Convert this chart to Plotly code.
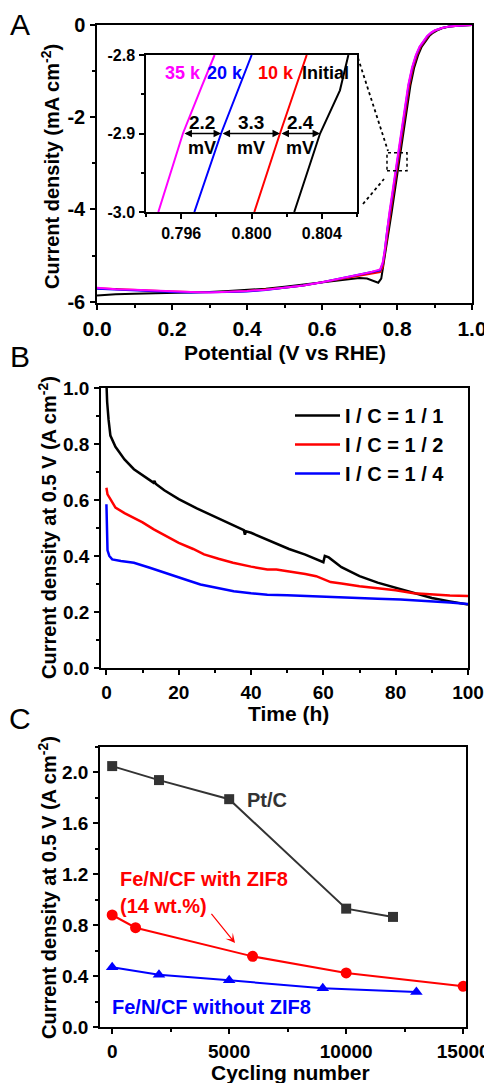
import plotly.graph_objects as go

# ---------------- Panel A: polarization curves ----------------
v_init = [0.00, 0.05, 0.10, 0.15, 0.20, 0.25, 0.30, 0.35, 0.40, 0.45, 0.50, 0.55, 0.60, 0.65, 0.70, 0.72,
          0.74, 0.75, 0.758, 0.765, 0.772, 0.779, 0.786, 0.796, 0.806, 0.816, 0.826, 0.836, 0.846, 0.856,
          0.866, 0.876, 0.886, 0.896, 0.906, 0.92, 0.94, 0.97, 1.00]
j_init = [-5.87, -5.84, -5.83, -5.82, -5.82, -5.81, -5.79, -5.77, -5.75, -5.72, -5.68, -5.63, -5.58, -5.53,
          -5.49, -5.50, -5.56, -5.59, -5.50, -5.15, -4.75, -4.44, -4.05, -3.50, -2.95, -2.40, -1.84, -1.30,
          -0.92, -0.66, -0.47, -0.34, -0.24, -0.17, -0.12, -0.07, -0.035, -0.01, 0.0]

v_10k = [0.00, 0.05, 0.10, 0.15, 0.20, 0.25, 0.30, 0.35, 0.40, 0.45, 0.50, 0.55, 0.60, 0.65, 0.70, 0.73,
         0.755, 0.762, 0.767, 0.772, 0.776, 0.783, 0.793, 0.803, 0.813, 0.823, 0.833, 0.843, 0.853, 0.863,
         0.873, 0.883, 0.893, 0.903, 0.92, 0.94, 0.97, 1.00]
j_10k = [-5.71, -5.73, -5.75, -5.77, -5.78, -5.79, -5.79, -5.79, -5.77, -5.74, -5.70, -5.65, -5.58, -5.50,
         -5.43, -5.39, -5.36, -5.25, -5.00, -4.70, -4.44, -4.05, -3.50, -2.95, -2.40, -1.84, -1.30, -0.92,
         -0.66, -0.47, -0.34, -0.24, -0.17, -0.12, -0.065, -0.03, -0.01, 0.0]

v_20k = [0.00, 0.05, 0.10, 0.15, 0.20, 0.25, 0.30, 0.35, 0.40, 0.45, 0.50, 0.55, 0.60, 0.65, 0.70, 0.73,
         0.755, 0.762, 0.767, 0.774, 0.781, 0.791, 0.801, 0.811, 0.821, 0.831, 0.841, 0.851, 0.861, 0.871,
         0.881, 0.891, 0.901, 0.92, 0.94, 0.97, 1.00]
j_20k = [-5.72, -5.74, -5.75, -5.77, -5.79, -5.80, -5.80, -5.79, -5.78, -5.75, -5.70, -5.65, -5.58, -5.50,
         -5.42, -5.37, -5.32, -5.17, -4.92, -4.44, -4.05, -3.50, -2.95, -2.40, -1.84, -1.30, -0.92, -0.66,
         -0.47, -0.34, -0.24, -0.17, -0.12, -0.065, -0.03, -0.01, 0.0]

v_35k = [0.00, 0.05, 0.10, 0.15, 0.20, 0.25, 0.30, 0.35, 0.40, 0.45, 0.50, 0.55, 0.60, 0.65, 0.70, 0.73,
         0.755, 0.762, 0.767, 0.773, 0.78, 0.79, 0.80, 0.81, 0.82, 0.83, 0.84, 0.85, 0.86, 0.87, 0.88, 0.89,
         0.90, 0.92, 0.94, 0.97, 1.00]
j_35k = [-5.70, -5.73, -5.74, -5.76, -5.78, -5.79, -5.80, -5.79, -5.77, -5.74, -5.70, -5.65, -5.58, -5.50,
         -5.41, -5.36, -5.30, -5.15, -4.90, -4.44, -4.05, -3.50, -2.95, -2.40, -1.84, -1.30, -0.92, -0.66,
         -0.47, -0.34, -0.24, -0.17, -0.12, -0.065, -0.03, -0.01, 0.0]

# inset (zoom of the half-wave region)
vi_init = [0.80243, 0.80390, 0.80503, 0.80551]
ji_init = [-3.0, -2.9, -2.845, -2.8]
vi_10k = [0.80016, 0.80162, 0.80314]
ji_10k = [-3.0, -2.9, -2.8]
vi_20k = [0.79675, 0.79827, 0.80001]
ji_20k = [-3.0, -2.9, -2.8]
vi_35k = [0.79470, 0.79610, 0.79717, 0.79790]
ji_35k = [-3.0, -2.9, -2.84, -2.8]
shift_labels = ["2.2", "3.3", "2.4"]

# ---------------- Panel B: durability ----------------
t_11 = [0, 0.2, 0.6, 1.1, 2.5, 5, 7.6, 10, 13, 13.3, 13.6, 16, 20, 25, 30, 35, 38, 38.3, 38.6, 40, 45, 50,
        50.5, 55, 60, 60.4, 61.5, 65, 70, 75, 80, 85, 90, 95, 100]
j_11 = [1.02, 0.95, 0.886, 0.83, 0.79, 0.745, 0.71, 0.688, 0.662, 0.668, 0.658, 0.635, 0.603, 0.57, 0.54,
        0.51, 0.492, 0.476, 0.488, 0.483, 0.456, 0.43, 0.425, 0.405, 0.378, 0.40, 0.395, 0.36, 0.328, 0.305,
        0.286, 0.267, 0.25, 0.238, 0.227]
t_12 = [0, 0.3, 1.1, 2.5, 5, 7.6, 10, 13.1, 16, 20, 24, 27, 31, 35, 40, 44.5, 47, 50, 55, 58, 60, 62, 65,
        70, 75, 80, 85, 90, 95, 100]
j_12 = [0.644, 0.62, 0.603, 0.573, 0.553, 0.537, 0.52, 0.495, 0.475, 0.447, 0.425, 0.406, 0.39, 0.376,
        0.362, 0.352, 0.352, 0.347, 0.336, 0.328, 0.318, 0.307, 0.302, 0.292, 0.285, 0.278, 0.267, 0.262,
        0.259, 0.257]
t_14 = [0, 0.1, 0.3, 0.8, 1.6, 4, 7.6, 12, 18.6, 22, 26, 30, 35.2, 40, 44.5, 50, 55, 62.9, 70, 75, 81.4,
        90, 95, 100]
j_14 = [0.585, 0.5, 0.42, 0.4, 0.388, 0.382, 0.376, 0.358, 0.328, 0.315, 0.298, 0.287, 0.274, 0.267,
        0.262, 0.26, 0.257, 0.253, 0.249, 0.247, 0.245, 0.239, 0.234, 0.229]
legend_names = ["I / C = 1 / 1", "I / C = 1 / 2", "I / C = 1 / 4"]

# ---------------- Panel C: cycling ----------------
cyc_pt = [0, 2000, 5000, 10000, 12000]
j_pt = [2.05, 1.94, 1.79, 0.93, 0.865]
cyc_zif = [0, 1000, 6000, 10000, 15000]
j_zif = [0.88, 0.78, 0.555, 0.425, 0.32]
cyc_nozif = [0, 2000, 5000, 9000, 13000]
j_nozif = [0.47, 0.41, 0.367, 0.305, 0.275]

FONT = "Liberation Sans, Arial, sans-serif"
OFF = 8                      # page body margin
W, H = 492 - OFF, 1083 - OFF


def px(x):
    return (x - OFF) / W


def py(y):
    return 1 - (y - OFF) / H


BLACK, RED, BLUE, MAG, GRAY = "#000000", "#ff0000", "#0000ff", "#ff00ff", "#333333"

fig = go.Figure()


def line(x, y, color, xa, ya, width=2, name=None, legend=False):
    fig.add_trace(go.Scatter(x=x, y=y, mode="lines", line=dict(color=color, width=width),
                             xaxis=xa, yaxis=ya, name=name, showlegend=legend, hoverinfo="skip"))


# Panel A
line(v_init, j_init, BLACK, "x", "y")
line(v_10k, j_10k, RED, "x", "y")
line(v_20k, j_20k, BLUE, "x", "y")
line(v_35k, j_35k, MAG, "x", "y")
# inset
line(vi_init, ji_init, BLACK, "x2", "y2")
line(vi_10k, ji_10k, RED, "x2", "y2")
line(vi_20k, ji_20k, BLUE, "x2", "y2")
line(vi_35k, ji_35k, MAG, "x2", "y2")
# Panel B
line(t_11, j_11, BLACK, "x3", "y3", width=2.5, name=legend_names[0], legend=True)
line(t_12, j_12, RED, "x3", "y3", width=2.5, name=legend_names[1], legend=True)
line(t_14, j_14, BLUE, "x3", "y3", width=2.5, name=legend_names[2], legend=True)
# Panel C
fig.add_trace(go.Scatter(x=cyc_pt, y=j_pt, mode="lines+markers", line=dict(color=GRAY, width=2),
                         marker=dict(symbol="square", size=10, color=GRAY), xaxis="x4", yaxis="y4",
                         showlegend=False))
fig.add_trace(go.Scatter(x=cyc_zif, y=j_zif, mode="lines+markers", line=dict(color=RED, width=2),
                         marker=dict(symbol="circle", size=11, color=RED), xaxis="x4", yaxis="y4",
                         showlegend=False))
fig.add_trace(go.Scatter(x=cyc_nozif, y=j_nozif, mode="lines+markers", line=dict(color=BLUE, width=2),
                         marker=dict(symbol="triangle-up", size=11, color=BLUE), xaxis="x4", yaxis="y4",
                         showlegend=False))


def tfont(size):
    return dict(family=FONT, size=size, color="black", weight="bold")


def axis(domain, rng, anchor, fsize, dtick=None, mdtick=None, tickvals=None, ticktext=None,
         mvals=None, fmt=None, tick0=0):
    d = dict(domain=domain, range=rng, anchor=anchor, showline=True, linecolor="black", linewidth=1.5,
             mirror=True, ticks="outside", ticklen=5, tickwidth=1.5, tickcolor="black", automargin=False,
             showgrid=False, zeroline=False, tickfont=tfont(fsize), ticklabelstandoff=1)
    minor = dict(ticks="outside", ticklen=3, tickwidth=1.5, tickcolor="black", showgrid=False)
    if tickvals is not None:
        d.update(tickmode="array", tickvals=tickvals, ticktext=ticktext)
        minor.update(tickmode="array", tickvals=mvals)
    else:
        d.update(tick0=tick0, dtick=dtick)
        minor.update(tick0=tick0, dtick=mdtick)
    if fmt:
        d["tickformat"] = fmt
    d["minor"] = minor
    return d


def inner(over, anchor, side, rng, dtick=None, mdtick=None, tickvals=None, mvals=None, tick0=0):
    d = dict(overlaying=over, anchor=anchor, side=side, range=rng, ticks="inside", ticklen=5,
             tickwidth=1.5, tickcolor="black", showticklabels=False, showline=False, showgrid=False,
             zeroline=False, automargin=False)
    minor = dict(ticks="inside", ticklen=3, tickwidth=1.5, tickcolor="black", showgrid=False)
    if tickvals is not None:
        d.update(tickmode="array", tickvals=tickvals)
        minor.update(tickmode="array", tickvals=mvals)
    else:
        d.update(tick0=tick0, dtick=dtick)
        minor.update(tick0=tick0, dtick=mdtick)
    d["minor"] = minor
    return d


A_x = [px(97), px(472)]
A_y = [py(303), py(25)]
I_x = [px(146), px(357)]
I_y = [py(212), py(55)]
B_x = [px(101), px(468)]
B_y = [py(668), py(388)]
C_x = [px(100), px(466)]
C_y = [py(1027), py(747)]

rA_x, rA_y = [0, 1.0], [-6.03, 0]
rI_x, rI_y = [0.794, 0.806], [-3.0, -2.8]
rB_x, rB_y = [-1.5, 100], [0, 1.0]
rC_x, rC_y = [-520, 15120], [0, 2.2]

fig.update_layout(
    xaxis=axis(A_x, rA_x, "y", 21, dtick=0.2, mdtick=0.1, fmt=".1f"),
    yaxis=axis(A_y, rA_y, "x", 20, tickvals=[0, -2, -4, -6], ticktext=["0", "-2", "-4", "-6"],
               mvals=[-1, -3, -5]),
    xaxis2=axis(I_x, rI_x, "y2", 16, tickvals=[0.796, 0.800, 0.804], ticktext=["0.796", "0.800", "0.804"],
                mvals=[0.794, 0.798, 0.802, 0.806]),
    yaxis2=axis(I_y, rI_y, "x2", 16, tickvals=[-3.0, -2.9, -2.8], ticktext=["-3.0", "-2.9", "-2.8"],
                mvals=[-2.95, -2.85]),
    xaxis3=axis(B_x, rB_x, "y3", 19, dtick=20, mdtick=10),
    yaxis3=axis(B_y, rB_y, "x3", 19, dtick=0.2, mdtick=0.1, fmt=".1f"),
    xaxis4=axis(C_x, rC_x, "y4", 19, dtick=5000, mdtick=2500, fmt="d"),
    yaxis4=axis(C_y, rC_y, "x4", 19, dtick=0.4, mdtick=0.2, fmt=".1f"),
    xaxis5=inner("x", "y", "top", rA_x, dtick=0.2, mdtick=0.1),
    yaxis5=inner("y", "x", "right", rA_y, tickvals=[0, -2, -4, -6], mvals=[-1, -3, -5]),
    xaxis6=inner("x2", "y2", "top", rI_x, tickvals=[0.796, 0.800, 0.804], mvals=[0.798, 0.802]),
    yaxis6=inner("y2", "x2", "right", rI_y, tickvals=[-3.0, -2.9, -2.8], mvals=[-2.95, -2.85]),
    xaxis7=inner("x3", "y3", "top", rB_x, dtick=20, mdtick=10),
    yaxis7=inner("y3", "x3", "right", rB_y, dtick=0.2, mdtick=0.1),
    xaxis8=inner("x4", "y4", "top", rC_x, dtick=5000, mdtick=2500),
    yaxis8=inner("y4", "x4", "right", rC_y, dtick=0.4, mdtick=0.2),
)

ann = []


def text(x, y, s, size, color="black", bold=True, xref="paper", yref="paper", angle=0, xanchor="center",
         yanchor="middle"):
    ann.append(dict(x=x, y=y, xref=xref, yref=yref, text=s, showarrow=False, textangle=angle,
                    xanchor=xanchor, yanchor=yanchor,
                    font=dict(family=FONT, size=size, color=color, weight="bold" if bold else "normal")))


# panel letters
text(px(20), py(24), "A", 30, bold=False)
text(px(20), py(357), "B", 30, bold=False)
text(px(20), py(718), "C", 30, bold=False)
# axis titles
text(px(285), py(352), "Potential (V vs RHE)", 21)
text(px(50), py(167), "Current density (mA cm<sup>-2</sup>)", 20, angle=-90)
text(px(288), py(713), "Time (h)", 21)
text(px(47), py(528), "Current density at 0.5 V (A cm<sup>-2</sup>)", 20, angle=-90)
text(px(290), py(1072), "Cycling number", 21)
text(px(47), py(888), "Current density at 0.5 V (A cm<sup>-2</sup>)", 20, angle=-90)

# inset labels
text(0.79608, -2.823, "35 k", 18, MAG, xref="x2", yref="y2")
text(0.79852, -2.823, "20 k", 18, BLUE, xref="x2", yref="y2")
text(0.80142, -2.823, "10 k", 18, RED, xref="x2", yref="y2")
text(0.80418, -2.823, "Initial", 18, BLACK, xref="x2", yref="y2")
pos_at = [vi_35k[1], vi_20k[1], vi_10k[1], vi_init[1]]
for k in range(3):
    xm = (pos_at[k] + pos_at[k + 1]) / 2
    text(xm, -2.886, shift_labels[k], 19, xref="x2", yref="y2")
    text(xm, -2.918, "mV", 18, xref="x2", yref="y2")
    ann.append(dict(x=pos_at[k + 1], y=-2.9, ax=pos_at[k], ay=-2.9, xref="x2", yref="y2", axref="x2",
                    ayref="y2", showarrow=True, arrowhead=2, arrowside="end+start", arrowsize=1,
                    arrowwidth=1.5, arrowcolor="black", text="", standoff=0, startstandoff=0))

# panel C labels
text(6600, 1.78, "Pt/C", 20, GRAY, xref="x4", yref="y4")
text(250, 1.16, "Fe/N/CF with ZIF8", 20, RED, xref="x4", yref="y4", xanchor="left")
text(250, 0.95, "(14 wt.%)", 20, RED, xref="x4", yref="y4", xanchor="left")
text(-100, 0.16, "Fe/N/CF without ZIF8", 20, BLUE, xref="x4", yref="y4", xanchor="left")
ann.append(dict(x=5250, y=0.66, ax=4190, ay=0.90, xref="x4", yref="y4", axref="x4", ayref="y4",
                showarrow=True, arrowhead=3, arrowsize=1.3, arrowwidth=1.2, arrowcolor=RED, text=""))

shapes = [
    dict(type="rect", xref="x", yref="y", x0=0.7733, x1=0.8267, y0=-3.16, y1=-2.77,
         line=dict(color="black", width=1.5, dash="dot")),
    dict(type="line", xref="paper", yref="paper", x0=px(358), y0=py(58), x1=px(388), y1=py(151),
         line=dict(color="black", width=1.8, dash="dot")),
    dict(type="line", xref="paper", yref="paper", x0=px(363), y0=py(204), x1=px(384), y1=py(179),
         line=dict(color="black", width=1.8, dash="dot")),
]

fig.update_layout(
    width=W, height=H, margin=dict(l=0, r=0, t=0, b=0, autoexpand=False),
    paper_bgcolor="white", plot_bgcolor="rgba(0,0,0,0)",
    annotations=ann, shapes=shapes,
    legend=dict(x=px(290), y=py(396), xanchor="left", yanchor="top", bgcolor="rgba(0,0,0,0)",
                font=dict(family=FONT, size=20, color="black", weight="bold"), itemwidth=45,
                tracegroupgap=0),
    font=dict(family=FONT),
)

fig.write_html("out.html")
